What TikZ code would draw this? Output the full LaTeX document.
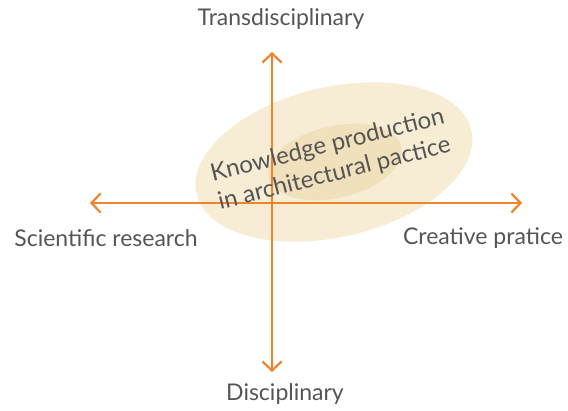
\documentclass[tikz,border=0pt]{standalone}
\usepackage{fontspec}
\setmainfont{Lato}
\usetikzlibrary{arrows.meta}

\definecolor{axisorange}{RGB}{240,132,42}
\definecolor{labelgray}{RGB}{85,85,85}
\definecolor{outerbeige}{RGB}{247,236,212}
\definecolor{innerbeige}{RGB}{240,225,188}

\tikzset{
  axis/.style={line width=2.2pt, draw=axisorange, {Straight Barb[length=9pt,width=19pt]}-{Straight Barb[length=9pt,width=19pt]}},
  pole/.style={text=labelgray, font=\fontsize{23}{27}\selectfont, inner sep=0pt},
}

\begin{document}
\begin{tikzpicture}[x=1pt,y=1pt]
      \useasboundingbox (0,0) rectangle (568,410);

      % knowledge zones
      \fill[outerbeige, rotate around={13:(334,248)}] (334,248) ellipse [x radius=141pt, y radius=75pt];
      \fill[innerbeige, rotate around={13:(335,248)}] (335,248) ellipse [x radius=68pt, y radius=36pt];

      % axes
      \coordinate (west) at (90,207);
      \coordinate (east) at (522,207);
      \coordinate (north) at (272,358);
      \coordinate (south) at (272,38);
      \draw[axis] (west) -- (east);
      \draw[axis] (south) -- (north);

      % poles
      \node[pole] (trans) at (281,391) {Transdisciplinary};
      \node[pole] (disc) at (285,16) {Disciplinary};
      \node[pole] (sci) at (106,172) {Scientific research};
      \node[pole] (crea) at (483,172) {Creative pratice};

      \node[text=labelgray, font=\fontsize{24}{29}\selectfont, align=center, rotate=14, inner sep=0pt] (knowledge) at (331,250)
        {Knowledge production\\in architectural pactice};
    \end{tikzpicture}
\end{document}
